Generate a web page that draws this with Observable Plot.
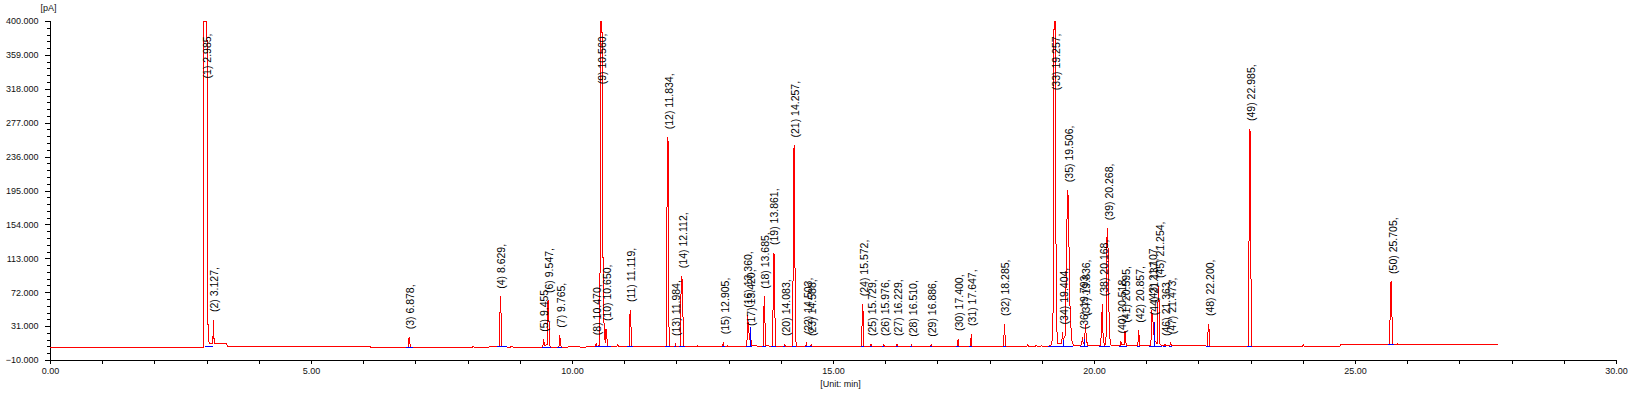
<!DOCTYPE html>
<html>
<head>
<meta charset="utf-8">
<script src="https://cdn.jsdelivr.net/npm/d3@7"></script>
<script src="https://cdn.jsdelivr.net/npm/@observablehq/plot@0.6"></script>
<style>
  html, body { margin: 0; padding: 0; background: #ffffff; }
  #chart svg { display: block; }
</style>
</head>
<body>
<div id="chart"></div>
<script>
// ---- chromatogram trace (time [min], signal [pA]) ----
const trace = [
  [0,5.5],[2.93,5.5],[2.94,400],[2.998,400],[3.003,34],[3.018,34],[3.025,14],[3.05,10],
  [3.11,10],[3.12,39],[3.128,27],[3.135,10],
  [3.38,10],[3.385,7],[6.13,7],[6.135,5.5],
  [6.85,5.5],[6.87,18],[6.885,11],[6.9,5.5],
  [8.08,5.5],[8.1,7.5],[8.12,5.5],
  [8.35,6],[8.5,7],[8.6,7],[8.612,50],[8.622,67],[8.634,40],[8.65,7],
  [8.8,6],[8.84,7],[8.88,6],
  [9.43,6],[9.445,15],[9.455,12],[9.47,8],[9.52,10],[9.53,62],[9.545,62],[9.556,9],[9.58,6],
  [9.74,6],[9.755,20],[9.77,12],[9.785,6],
  [10.0,6.5],[10.05,7],[10.2,6],[10.3,6.5],
  [10.44,6.5],[10.455,11],[10.47,7],[10.525,8],[10.535,400],[10.565,400],[10.572,115],[10.59,115],[10.6,40],[10.625,12],[10.64,28],[10.652,25],[10.67,8],[10.7,7],
  [10.85,7],[10.87,9],[10.89,7],
  [11.085,6.5],[11.1,45],[11.112,51],[11.126,20],[11.14,7],
  [11.795,7],[11.808,151],[11.82,260],[11.832,255],[11.845,40],[11.86,7],
  [11.96,7],[11.972,10],[11.985,7],
  [12.065,7],[12.08,75],[12.095,92],[12.108,80],[12.125,10],[12.14,7],
  [12.38,7],[12.39,8],[12.4,7],
  [12.875,7],[12.89,12],[12.905,7],[12.96,7],[12.97,8],[12.98,7],
  [13.34,7],[13.355,44],[13.37,30],[13.395,15],[13.41,22],[13.425,10],[13.44,8],
  [13.655,7],[13.668,55],[13.68,67],[13.695,8],
  [13.835,7],[13.848,96],[13.86,120],[13.874,60],[13.89,7],
  [14.055,7],[14.066,10],[14.08,7],
  [14.22,7],[14.232,221],[14.245,250],[14.256,160],[14.272,20],[14.29,7],
  [14.47,7],[14.482,12],[14.495,7],[14.56,7],[14.572,10],[14.585,7],
  [15.54,7],[15.553,58],[15.566,50],[15.58,7],
  [15.705,7],[15.716,10],[15.728,7],
  [15.95,7],[15.962,10],[15.975,7],
  [16.205,7],[16.217,10],[16.23,7],
  [16.48,7],[16.492,9],[16.505,7],
  [16.86,7],[16.872,9],[16.885,7],
  [17.375,7],[17.388,16],[17.4,7],
  [17.625,7],[17.638,22],[17.652,7],
  [18.26,7],[18.273,34],[18.287,20],[18.3,7],
  [18.7,7],[18.72,9],[18.74,7],[18.86,7],[18.88,9],[18.9,7],[18.96,7],[18.98,8],[19.0,7],
  [19.13,7.5],[19.18,9],[19.2,24],[19.215,91],[19.225,400],[19.255,400],[19.262,137],[19.275,30],[19.3,10],
  [19.37,10],[19.388,24],[19.4,15],[19.44,20],[19.455,80],[19.47,151],[19.485,196],[19.497,186],[19.51,135],[19.528,60],[19.56,15],[19.6,8],
  [19.7,8],[19.75,9],[19.77,18],[19.785,10],[19.81,15],[19.828,34],[19.845,15],[19.87,8],
  [20.12,8],[20.137,40],[20.152,58],[20.166,15],[20.2,8],[20.225,20],[20.24,140],[20.252,150],[20.266,100],[20.285,20],[20.32,8],
  [20.49,8],[20.505,13],[20.52,9],[20.57,9],[20.585,26],[20.6,12],[20.62,8],
  [20.83,8],[20.847,26],[20.865,8],
  [21.08,8],[21.097,51],[21.112,40],[21.127,35],[21.145,15],[21.2,10],[21.223,80],[21.238,60],[21.255,10],[21.29,8],
  [21.34,8],[21.352,10],[21.365,8],[21.445,8],[21.458,12],[21.472,8],
  [22.165,7.5],[22.18,34],[22.195,28],[22.21,7.5],
  [22.95,7.5],[22.965,196],[22.977,270],[22.988,256],[23.0,60],[23.015,7.5],
  [23.99,7.5],[24.0,9],[24.01,7.5],
  [24.71,7.5],[24.72,9.5],
  [25.655,9.5],[25.668,72],[25.678,85],[25.69,85],[25.7,40],[25.715,9.5],
  [25.8,9.5],[25.81,11],[25.82,9.5],
  [27.73,9.5]
];

// ---- integration baselines (start, end, level) ----
const baseStart = [2.96,6.82,8.56,9.42,9.72,10.44,11.06,11.78,11.95,12.05,12.87,13.33,13.64,13.82,14.05,14.21,14.46,15.53,15.70,15.94,16.20,16.47,16.85,17.36,17.61,18.25,19.12,19.74,20.10,20.48,20.82,21.06,21.33,21.44,22.15,22.93,25.64];
const baseEnd   = [3.13,6.95,8.76,9.60,9.80,10.75,11.16,11.88,12.00,12.16,12.93,13.45,13.71,13.90,14.09,14.30,14.60,15.60,15.74,15.98,16.24,16.52,16.90,17.42,17.67,18.31,19.60,19.88,20.30,20.64,20.88,21.30,21.38,21.49,22.22,23.02,25.74];
const baseLevel = [7,5.5,7,6,6,6.5,6.5,7,7,7,7,7,7,7,7,7,7,7,7,7,7,7,7,7,7,7,7.5,7.5,7.5,7.5,7.5,7.5,7.5,7.5,7.5,7.5,9.5];

// ---- drop lines between fused peaks (time, top) ----
const dropTime = [13.41, 19.405, 19.80, 21.14];
const dropTop  = [30, 14, 16, 36];

// ---- peak table ----
const peakNo = [1,2,3,4,5,6,7,8,9,10,11,12,13,14,15,16,17,18,19,20,21,22,23,24,25,26,27,28,29,30,31,32,33,34,35,36,37,38,39,40,41,42,43,44,45,46,47,48,49,50];
const peakRT = [2.985,3.127,6.878,8.629,9.455,9.547,9.765,10.470,10.560,10.650,11.119,11.834,11.984,12.112,12.905,13.360,13.420,13.685,13.861,14.083,14.257,14.503,14.588,15.572,15.729,15.976,16.229,16.510,16.886,17.400,17.647,18.285,19.257,19.404,19.506,19.793,19.836,20.168,20.268,20.518,20.595,20.857,21.107,21.137,21.254,21.363,21.473,22.200,22.985,25.705];
const peakTop = [400,39,18,67,15,62,20,11,400,28,51,260,10,92,12,44,22,67,120,10,250,12,10,58,10,10,10,9,9,16,22,34,400,24,196,18,34,58,150,13,26,26,51,35,80,10,12,34,270,85];

// ---- axes ----
const yTicks = [-10,31,72,113,154,195,236,277,318,359,400];
const xTicks = [0,5,10,15,20,25,30];
const xDomain = [0, 30];
const yDomain = [-10, 400];
const yUnit = "[pA]";
const xUnit = "[Unit: min]";

const yMinor = d3.range(-10, 400.001, 8.2);
const xMinor = d3.range(0, 30.001, 1);

const FONT = "'Liberation Sans', Arial, sans-serif";
const idx = d3.range(peakNo.length);
const normal = idx.filter(i => peakTop[i] < 400);
const clipped = idx.filter(i => peakTop[i] >= 400);
const label = i => `(${peakNo[i]}) ${peakRT[i].toFixed(3)},`;
const segs = d3.range(baseStart.length);
const drops = d3.range(dropTime.length);

const chart = Plot.plot({
  width: 1636,
  height: 395,
  marginLeft: 50,
  marginRight: 20,
  marginTop: 21,
  marginBottom: 35,
  style: { fontFamily: FONT, background: "#ffffff", color: "#000000", overflow: "visible" },
  x: { domain: xDomain },
  y: { domain: yDomain },
  marks: [
    // minor ticks
    Plot.axisY(yMinor, { tickSize: 3, tickFormat: () => "", label: null, stroke: "#000", shapeRendering: "crispEdges" }),
    Plot.axisX(xMinor, { tickSize: 4, tickFormat: () => "", label: null, stroke: "#000", shapeRendering: "crispEdges" }),
    // major ticks with labels
    Plot.axisY(yTicks, { tickSize: 5, tickPadding: 7, tickFormat: d3.format(".3f"), fontSize: 9, label: null, fill: "#111", stroke: "#000", shapeRendering: "crispEdges" }),
    Plot.axisX(xTicks, { tickSize: 4, tickPadding: 3, tickFormat: d3.format(".2f"), fontSize: 9, label: null, fill: "#111", stroke: "#000", shapeRendering: "crispEdges" }),
    // axis lines
    Plot.ruleX([xDomain[0]], { stroke: "#000", shapeRendering: "crispEdges" }),
    Plot.ruleY([yDomain[0]], { stroke: "#000", shapeRendering: "crispEdges" }),
    // trace
    Plot.line(trace, { x: d => d[0], y: d => d[1], stroke: "#ff0000", strokeWidth: 1, curve: "linear", shapeRendering: "crispEdges" }),
    // integration baselines
    Plot.ruleY(segs, { y: i => baseLevel[i], x1: i => baseStart[i], x2: i => baseEnd[i], stroke: "#0000ff", strokeWidth: 1, shapeRendering: "crispEdges" }),
    Plot.ruleX(drops, { x: i => dropTime[i], y1: i => baseLevel[0] + 0.5, y2: i => dropTop[i], stroke: "#0000ff", strokeWidth: 1, shapeRendering: "crispEdges" }),
    // peak labels
    Plot.text(normal, { x: i => peakRT[i], y: i => peakTop[i], text: label, rotate: -90, textAnchor: "start", lineAnchor: "middle", dy: -8, dx: 1, fontSize: 10.5, fill: "#000" }),
    Plot.text(clipped, { x: i => peakRT[i], frameAnchor: "top", text: label, rotate: -90, textAnchor: "end", lineAnchor: "middle", dy: 12, dx: 1, fontSize: 10.5, fill: "#000" }),
    // unit labels
    Plot.text([yUnit], { frameAnchor: "top-left", lineAnchor: "middle", dx: -2, dy: -13, fontSize: 9, textAnchor: "middle", fill: "#111" }),
    Plot.text([xUnit], { frameAnchor: "bottom", lineAnchor: "middle", dx: 7, dy: 24, fontSize: 9, textAnchor: "middle", fill: "#111" })
  ]
});
document.getElementById("chart").appendChild(chart);
</script>
</body>
</html>
